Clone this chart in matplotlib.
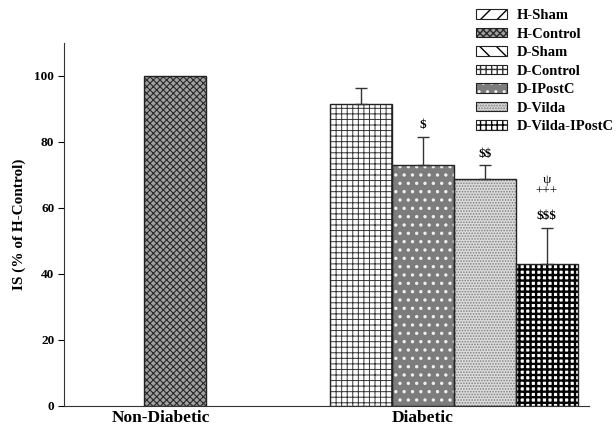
import numpy as np
import matplotlib
matplotlib.use("Agg")
import matplotlib.pyplot as plt
from matplotlib.patches import Patch
from matplotlib.legend_handler import HandlerTuple

plt.rcParams['font.family'] = ['Liberation Serif', 'DejaVu Serif']
plt.rcParams['font.weight'] = 'bold'
plt.rcParams['text.parse_math'] = False

# ---- data ----
series = ["H-Sham", "H-Control", "D-Sham", "D-Control", "D-IPostC", "D-Vilda", "D-Vilda-IPostC"]
slots = [0, 1, 3, 4, 5, 6, 7]           # slot index of each series along x
values = [0, 100, 0, 91.5, 72.8, 68.8, 43.0]
errors = [0, 0, 0, 4.8, 8.6, 4.0, 11.0]
annotations = ["", "", "", "", "$", "$$", "$$$"]
extra_annot = ["", "", "", "", "", "", "+++"]
extra_annot2 = ["", "", "", "", "", "", "\u03c8"]
groups = ["Non-Diabetic", "Diabetic"]
group_pos = [0.77, 5.0]
yticks = [0, 20, 40, 60, 80, 100]

# ---- styles ----
faces = ["white", "#a0a0a0", "white", "white", "#7c7c7c", "#dcdcdc", "white"]
hatch_cols = ["black", "#2a2a2a", "black", "#333333", "#f0f0f0", "#808080", "black"]
hatches = ["//", "xxxxx", "\\\\", "+++", "..", "......", "+++"]
hatch_lw = [0.8, 0.8, 0.8, 0.7, 1.2, 0.8, 1.7]

fig = plt.figure(figsize=(6.16, 4.28), dpi=100)
ax = fig.add_axes([64/616, 1-406/428, (589-64)/616, (406-42.6)/428])

width = 1.0
handles = []
for i, name in enumerate(series):
    x = slots[i]
    with plt.rc_context({'hatch.linewidth': hatch_lw[i]}):
        b = ax.bar(x, values[i], width=width, color=faces[i], edgecolor=hatch_cols[i],
                   hatch=hatches[i], linewidth=0, zorder=2)
        hp = Patch(facecolor=faces[i], edgecolor=hatch_cols[i], hatch=hatches[i], linewidth=0)
    try:
        b[0].set_hatch_linewidth(hatch_lw[i])
        hp.set_hatch_linewidth(hatch_lw[i])
    except Exception:
        pass
    if values[i] > 0:
        ax.bar(x, values[i], width=width, fill=False, edgecolor="#222222", linewidth=1.0, zorder=3)
        if errors[i] > 0:
            ax.errorbar(x, values[i], yerr=[[0], [errors[i]]], fmt='none', ecolor="#333333",
                        elinewidth=1.0, capsize=4, capthick=1.0, zorder=4)
    op = Patch(facecolor='none', edgecolor='#222222', linewidth=0.8)
    handles.append((hp, op))
    top = values[i] + errors[i]
    if annotations[i]:
        ax.text(x, top + 1.8, annotations[i], ha='center', va='bottom', fontsize=9.5)
    if extra_annot[i]:
        ax.text(x, top + 9.0, extra_annot[i], ha='center', va='bottom', fontsize=9.5, fontweight='normal')
    if extra_annot2[i]:
        ax.text(x, top + 12.5, extra_annot2[i], ha='center', va='bottom', fontsize=9.5, fontweight='normal')

ax.set_xlim(-0.79, 7.68)
ax.set_ylim(0, 110)
ax.set_yticks(yticks)
ax.set_yticklabels([str(t) for t in yticks], fontsize=9.5, fontweight='bold')
ax.set_xticks(group_pos)
ax.set_xticklabels(groups, fontsize=12.5, fontweight='bold')
ax.tick_params(axis='x', length=0, pad=3)
ax.tick_params(axis='y', length=4, width=0.8, pad=3)
for s in ['top', 'right']:
    ax.spines[s].set_visible(False)
for s in ['left', 'bottom']:
    ax.spines[s].set_linewidth(0.8)
    ax.spines[s].set_color('#333333')
ax.set_ylabel("IS (% of H-Control)", fontsize=11, fontweight='bold', labelpad=6)

leg = fig.legend(handles, series, handler_map={tuple: HandlerTuple(ndivide=1, pad=0)},
                 loc='upper left', bbox_to_anchor=(476/616, 1-9/428), frameon=False,
                 handlelength=2.1, handleheight=0.62, handletextpad=0.7,
                 labelspacing=0.38, borderaxespad=0, borderpad=0,
                 prop={'weight': 'bold', 'size': 10.5})

fig.savefig("out.png", dpi=100)
